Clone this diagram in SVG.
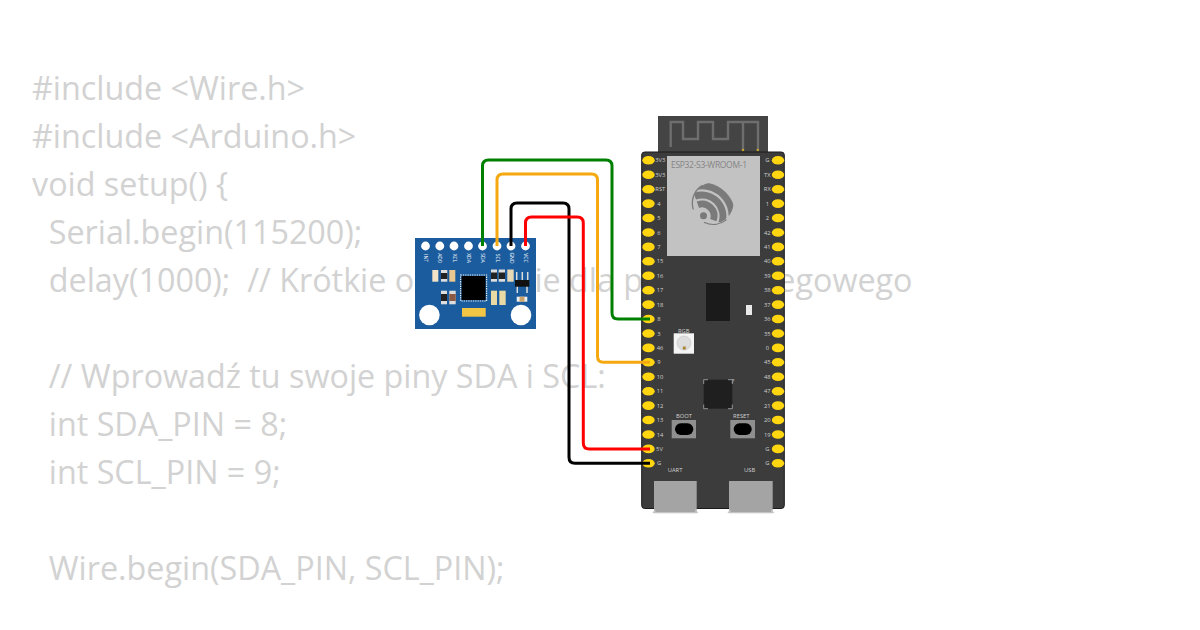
<svg xmlns="http://www.w3.org/2000/svg" width="1200" height="630" viewBox="0 0 1200 630">
<style>
.code{font-family:"Open Sans","Noto Sans",sans-serif;font-size:32.3px;fill:#d2d2d2;white-space:pre}
.lbl{font-family:"Open Sans","Noto Sans",sans-serif;font-size:5.800px;fill:#d0d0d0;text-anchor:middle}
.mpu{font-family:"Open Sans","Noto Sans",sans-serif;font-size:5px;fill:#fff}
.wire{fill:none;stroke-width:3;stroke-linejoin:round}
.pin{fill:#ffd60f}
.hole{fill:#fff}
.trace{fill:none;stroke:#6e6e6e;stroke-width:2.400}
.band{fill:none;stroke:#7a7a7a;stroke-width:6.800}
.thin{fill:none;stroke:#7a7a7a;stroke-width:1.300;stroke-linecap:round}
.flare{fill:#c4c4c4}
</style>
<defs>
<clipPath id="logoClip"><circle cx="713" cy="203" r="20.500"/></clipPath>
</defs>
<rect width="1200" height="630" fill="#fff"/>
<g id="code">
<text class="code" x="32" y="100">#include &lt;Wire.h&gt;</text>
<text class="code" x="32" y="148">#include &lt;Arduino.h&gt;</text>
<text class="code" x="32" y="196">void setup() {</text>
<text class="code" x="32" y="244">  Serial.begin(115200);</text>
<text class="code" x="32" y="292">  delay(1000);  // Krótkie opóźnienie dla portu szeregowego</text>
<text class="code" x="32" y="388">  // Wprowadź tu swoje piny SDA i SCL:</text>
<text class="code" x="32" y="436">  int SDA_PIN = 8;</text>
<text class="code" x="32" y="484">  int SCL_PIN = 9;</text>
<text class="code" x="32" y="580">  Wire.begin(SDA_PIN, SCL_PIN);</text>
</g>
<g id="mpu6050">
<rect x="415" y="238" width="121" height="91" fill="#1a5c9e"/>
<g class="hole">
<circle cx="425.500" cy="246" r="4.400"/><circle cx="439.800" cy="246" r="4.400"/><circle cx="454" cy="246" r="4.400"/><circle cx="468.500" cy="246" r="4.400"/><circle cx="482.500" cy="246" r="4.400"/><circle cx="497" cy="246" r="4.400"/><circle cx="511" cy="246" r="4.400"/><circle cx="525.500" cy="246" r="4.400"/>
<circle cx="429.400" cy="315" r="10.300"/><circle cx="521" cy="315" r="10.300"/>
</g>
<g class="mpu" text-anchor="middle">
<text transform="translate(424,258) rotate(90)">INT</text>
<text transform="translate(438.300,258) rotate(90)">AD0</text>
<text transform="translate(452.500,258) rotate(90)">XCL</text>
<text transform="translate(467,258) rotate(90)">XDA</text>
<text transform="translate(481,258) rotate(90)">SDA</text>
<text transform="translate(495.500,258) rotate(90)">SCL</text>
<text transform="translate(509.500,258) rotate(90)">GND</text>
<text transform="translate(524,258) rotate(90)">VCC</text>
</g>
<g>
<rect x="432.300" y="270" width="6" height="11.700" fill="#f2e3c8"/>
<rect x="441" y="270" width="6.300" height="11.700" fill="#ddd"/><rect x="441" y="273" width="6.300" height="6" fill="#222"/>
<rect x="449.300" y="270" width="6" height="11.700" fill="#e8c890"/>
<rect x="441" y="290.700" width="6" height="13.600" fill="#ddd"/><rect x="441" y="294" width="6" height="7" fill="#222"/>
<rect x="449.300" y="290.700" width="6.400" height="13.600" fill="#ddd"/><rect x="449.300" y="294" width="6.400" height="7" fill="#8a5a44"/>
<rect x="491" y="269.500" width="6" height="12.200" fill="#ddd"/><rect x="491" y="272.500" width="6" height="6.500" fill="#222"/>
<rect x="498.700" y="269.500" width="6.300" height="12.200" fill="#ddd"/><rect x="498.700" y="272.500" width="6.300" height="6.500" fill="#222"/>
<rect x="507.300" y="269.500" width="6.400" height="12.200" fill="#e8d9b5"/>
<rect x="491" y="290.700" width="6" height="14.300" fill="#e8d9a5"/>
<rect x="499.300" y="290.700" width="6.400" height="14.300" fill="#e8d9a5"/>
<rect x="516.700" y="296.700" width="10.600" height="5" fill="#eee"/><rect x="519.500" y="296.700" width="5" height="5" fill="#c9a36a"/>
</g>
<rect x="461.500" y="276" width="24" height="24" fill="#000"/>
<rect x="460.600" y="275" width="26" height="26" fill="none" stroke="#e8f0f8" stroke-width="1.200" stroke-dasharray="1.300 1"/>
<rect x="462" y="308" width="23.700" height="8.700" fill="#f2c545"/>
<path d="M516.700 272v8M522.300 272v8M527.700 272v8M517.300 286v7M527 286v7" stroke="#ddd" stroke-width="1.500" fill="none"/>
<rect x="515" y="280" width="14.300" height="6.700" fill="#111"/>
</g>
<g id="esp32">
<rect x="658" y="116" width="110" height="38" fill="#444"/>
<path class="trace" d="M670.700 147V122H683V139H698V122H713V139H728V122H758V150M743 122V150"/>
<circle cx="743" cy="150" r="1.200" fill="#c8a82a"/><circle cx="757.800" cy="150" r="1.200" fill="#c8a82a"/>
<rect x="641.700" y="152" width="142.600" height="356.500" rx="3" fill="#3c3c3c" stroke="#1a1a1a" stroke-width="1"/>
<rect x="667" y="156" width="93" height="100" fill="#c2c2c2"/>
<text x="671" y="168" font-family="'Open Sans',sans-serif" font-size="8.500" fill="#858585" textLength="76">ESP32-S3-WROOM-1</text>
<g clip-path="url(#logoClip)">
<path class="band" d="M697.900 204.700A12 12 0 0 1 713.300 220.100"/>
<path class="band" d="M694.800 196.300A21 21 0 0 1 721.700 223.200"/>
<path class="band" d="M691.700 187.800A30 30 0 0 1 730.200 226.300"/>
</g>
<path class="thin" d="M693.200 209A20.800 20.800 0 0 1 702 185.500"/>
<path class="thin" d="M704.500 222.500A21 21 0 0 0 726 220"/>
<circle cx="703.500" cy="215.700" r="3.500" fill="#7a7a7a"/>
<rect x="706" y="283" width="24" height="38" fill="#1b1b1b"/>
<rect x="746" y="305" width="6" height="10" fill="#e8e8e8"/>
<rect x="673.700" y="333.300" width="20.300" height="20.400" fill="#f4f4f4"/><circle cx="684" cy="343" r="7" fill="#ddd" stroke="#bbb" stroke-width=".5"/><rect x="682.800" y="346.500" width="3" height="3" fill="#a88a3a"/>
<rect x="703.700" y="379.700" width="28.600" height="29" fill="#1f1f1f"/>
<path d="M703.700 384V379.700H708M728 379.700H732.300V384M703.700 404.500V408.700H708M728 408.700H732.300V404.500" fill="none" stroke="#bbb" stroke-width=".7"/>
<rect x="671.700" y="420" width="24.300" height="18.300" fill="#8f8f8f"/><rect x="675" y="423.300" width="18.300" height="11.700" rx="5.800" fill="#000"/>
<rect x="730.300" y="420" width="24.700" height="18.300" fill="#8f8f8f"/><rect x="733.700" y="423.300" width="18" height="11.700" rx="5.800" fill="#000"/>
<rect x="654" y="481" width="42.700" height="31" fill="#a4a4a4"/>
<rect x="729" y="481" width="43.700" height="31" fill="#a4a4a4"/>
<rect x="654" y="512" width="42.700" height="1.300" class="flare"/>
<rect x="729" y="512" width="43.700" height="1.300" class="flare"/>
<path class="flare" d="M655 509L652.500 513H656ZM695.700 509L698.200 513H694.700ZM730 509L727.500 513H731ZM771.700 509L774.200 513H770.700Z"/>
<g class="lbl">
<text x="683.700" y="333">RGB</text>
<text x="684" y="418">BOOT</text>
<text x="741.300" y="418">RESET</text>
<text x="675" y="472">UART</text>
<text x="749.700" y="472">USB</text>
<text x="733" y="382.500">?</text>
</g>
<g id="pins-left" class="pin">
<ellipse cx="648.500" cy="160.300" rx="6.200" ry="4.300"/><ellipse cx="648.500" cy="174.700" rx="6.200" ry="4.300"/><ellipse cx="648.500" cy="189.200" rx="6.200" ry="4.300"/><ellipse cx="648.500" cy="203.600" rx="6.200" ry="4.300"/><ellipse cx="648.500" cy="218" rx="6.200" ry="4.300"/><ellipse cx="648.500" cy="232.500" rx="6.200" ry="4.300"/><ellipse cx="648.500" cy="246.900" rx="6.200" ry="4.300"/><ellipse cx="648.500" cy="261.300" rx="6.200" ry="4.300"/><ellipse cx="648.500" cy="275.700" rx="6.200" ry="4.300"/><ellipse cx="648.500" cy="290.200" rx="6.200" ry="4.300"/><ellipse cx="648.500" cy="304.600" rx="6.200" ry="4.300"/><ellipse cx="648.500" cy="319" rx="6.200" ry="4.300"/><ellipse cx="648.500" cy="333.500" rx="6.200" ry="4.300"/><ellipse cx="648.500" cy="347.900" rx="6.200" ry="4.300"/><ellipse cx="648.500" cy="362.300" rx="6.200" ry="4.300"/><ellipse cx="648.500" cy="376.800" rx="6.200" ry="4.300"/><ellipse cx="648.500" cy="391.200" rx="6.200" ry="4.300"/><ellipse cx="648.500" cy="405.600" rx="6.200" ry="4.300"/><ellipse cx="648.500" cy="420" rx="6.200" ry="4.300"/><ellipse cx="648.500" cy="434.500" rx="6.200" ry="4.300"/><ellipse cx="648.500" cy="448.900" rx="6.200" ry="4.300"/><ellipse cx="648.500" cy="463.300" rx="6.200" ry="4.300"/>
</g>
<g id="pins-right" class="pin">
<ellipse cx="778" cy="160.300" rx="6.200" ry="4.300"/><ellipse cx="778" cy="174.700" rx="6.200" ry="4.300"/><ellipse cx="778" cy="189.200" rx="6.200" ry="4.300"/><ellipse cx="778" cy="203.600" rx="6.200" ry="4.300"/><ellipse cx="778" cy="218" rx="6.200" ry="4.300"/><ellipse cx="778" cy="232.500" rx="6.200" ry="4.300"/><ellipse cx="778" cy="246.900" rx="6.200" ry="4.300"/><ellipse cx="778" cy="261.300" rx="6.200" ry="4.300"/><ellipse cx="778" cy="275.700" rx="6.200" ry="4.300"/><ellipse cx="778" cy="290.200" rx="6.200" ry="4.300"/><ellipse cx="778" cy="304.600" rx="6.200" ry="4.300"/><ellipse cx="778" cy="319" rx="6.200" ry="4.300"/><ellipse cx="778" cy="333.500" rx="6.200" ry="4.300"/><ellipse cx="778" cy="347.900" rx="6.200" ry="4.300"/><ellipse cx="778" cy="362.300" rx="6.200" ry="4.300"/><ellipse cx="778" cy="376.800" rx="6.200" ry="4.300"/><ellipse cx="778" cy="391.200" rx="6.200" ry="4.300"/><ellipse cx="778" cy="405.600" rx="6.200" ry="4.300"/><ellipse cx="778" cy="420" rx="6.200" ry="4.300"/><ellipse cx="778" cy="434.500" rx="6.200" ry="4.300"/><ellipse cx="778" cy="448.900" rx="6.200" ry="4.300"/><ellipse cx="778" cy="463.300" rx="6.200" ry="4.300"/>
</g>
<g class="lbl">
<text x="660.300" y="162.300">3V3</text><text x="660.300" y="176.700">3V3</text><text x="660.300" y="191.200">RST</text><text x="659" y="205.600">4</text><text x="659" y="220">5</text><text x="659" y="234.500">6</text><text x="659" y="248.900">7</text><text x="660" y="263.300">15</text><text x="660" y="277.700">16</text><text x="660" y="292.200">17</text><text x="660" y="306.600">18</text><text x="659" y="321">8</text><text x="659" y="335.500">3</text><text x="660" y="349.900">46</text><text x="659" y="364.300">9</text><text x="660" y="378.800">10</text><text x="660" y="393.200">11</text><text x="660" y="407.600">12</text><text x="660" y="422">13</text><text x="660" y="436.500">14</text><text x="659.500" y="450.900">5V</text><text x="659" y="465.300">G</text>
<text x="767.300" y="162.300">G</text><text x="767.300" y="176.700">TX</text><text x="767.300" y="191.200">RX</text><text x="767.300" y="205.600">1</text><text x="767.300" y="220">2</text><text x="767.300" y="234.500">42</text><text x="767.300" y="248.900">41</text><text x="767.300" y="263.300">40</text><text x="767.300" y="277.700">39</text><text x="767.300" y="292.200">38</text><text x="767.300" y="306.600">37</text><text x="767.300" y="321">36</text><text x="767.300" y="335.500">35</text><text x="767.300" y="349.900">0</text><text x="767.300" y="364.300">45</text><text x="767.300" y="378.800">48</text><text x="767.300" y="393.200">47</text><text x="767.300" y="407.600">21</text><text x="767.300" y="422">20</text><text x="767.300" y="436.500">19</text><text x="767.300" y="450.900">G</text><text x="767.300" y="465.300">G</text>
</g>
</g>
<g id="connectors" class="wire">
<path stroke="#008000" d="M482.500 246V166Q482.500 160 488.500 160H606Q612 160 612 166V313Q612 319 618 319H650"/>
<path stroke="#f5a80f" d="M497 246V180Q497 174 503 174H591.500Q597.500 174 597.500 180V356.300Q597.500 362.300 603.500 362.300H650"/>
<path stroke="#000" d="M511 246V209Q511 203 517 203H563Q569 203 569 209V457.300Q569 463.300 575 463.300H650"/>
<path stroke="#f00" d="M525.500 246V223Q525.500 217 531.500 217H577.300Q583.300 217 583.300 223V442.900Q583.300 448.900 589.300 448.900H650"/>
</g>
</svg>
